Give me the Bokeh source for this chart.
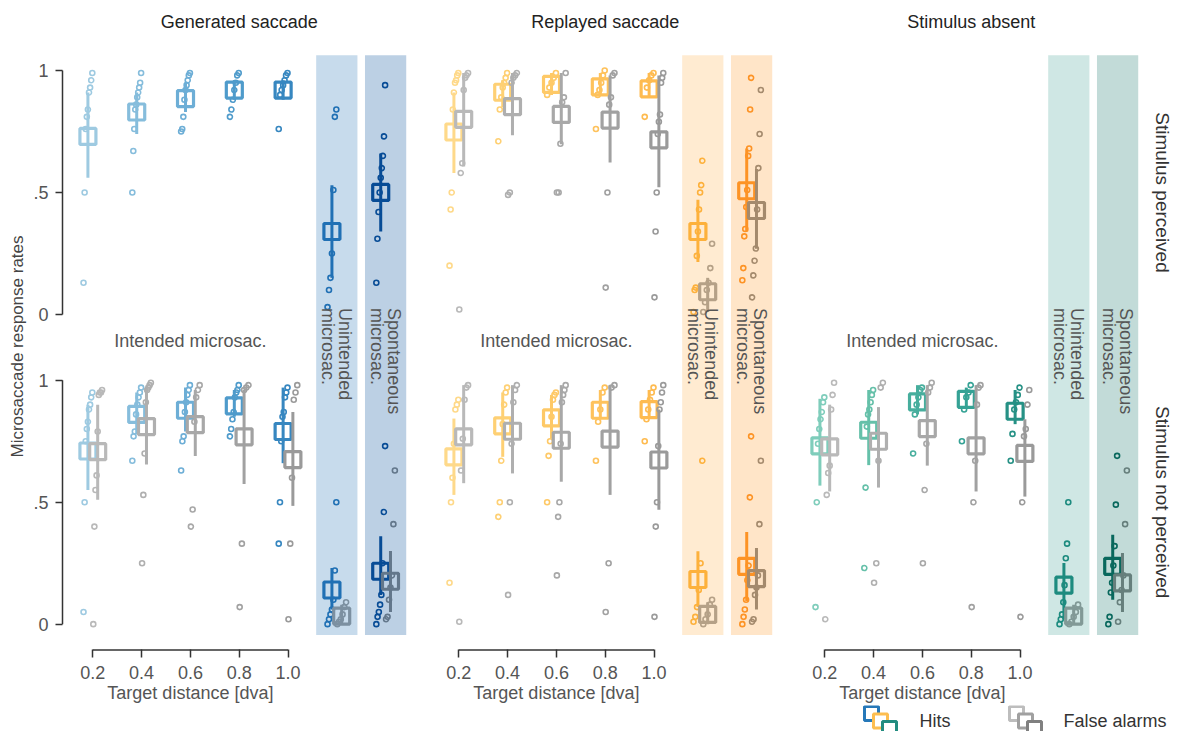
import math
from bokeh.plotting import figure
from bokeh.layouts import row, column
from bokeh.models import Range1d, FixedTicker, ColumnDataSource
from bokeh.embed import file_html
from bokeh.resources import INLINE
from bokeh.core.properties import value

# ---------------- data ----------------
GROUPS = ["Generated saccade", "Replayed saccade", "Stimulus absent"]
ROWS = ["Stimulus perceived", "Stimulus not perceived"]
DIST = [0.2, 0.4, 0.6, 0.8, 1.0]
DIST_LABELS = ["0.2", "0.4", "0.6", "0.8", "1.0"]
EXTRA_POS = [1.2, 1.4]
EXTRA_LABELS = ["Unintended\nmicrosac.", "Spontaneous\nmicrosac."]
INTENDED_LABEL = "Intended microsac."
X_TITLE = "Target distance [dva]"
Y_TITLE = "Microsaccade response rates"
Y_TICKS = [0.0, 0.5, 1.0]
Y_TICK_LABELS = ["0", ".5", "1"]
LEGEND_LABELS = ["Hits", "False alarms"]

# order in every list: 0.2, 0.4, 0.6, 0.8, 1.0, unintended, spontaneous
gen_perc_hit_mean = [0.73, 0.83, 0.885, 0.92, 0.92, 0.34, 0.50]
gen_perc_hit_lo = [0.56, 0.74, 0.83, 0.88, 0.88, 0.15, 0.34]
gen_perc_hit_hi = [0.91, 0.91, 0.95, 0.96, 0.96, 0.53, 0.66]
gen_perc_hit_pts = [
    [0.99, 0.96, 0.93, 0.91, 0.84, 0.81, 0.76, 0.5, 0.13],
    [0.99, 0.95, 0.93, 0.91, 0.89, 0.86, 0.84, 0.76, 0.67, 0.5],
    [0.99, 0.98, 0.96, 0.94, 0.92, 0.88, 0.81, 0.76, 0.75],
    [0.99, 0.98, 0.95, 0.92, 0.88, 0.84, 0.81],
    [0.99, 0.98, 0.96, 0.94, 0.92, 0.9, 0.76],
    [0.84, 0.81, 0.51, 0.25, 0.15, 0.1, 0.03],
    [0.94, 0.73, 0.65, 0.6, 0.56, 0.5, 0.42, 0.31, 0.13],
]

gen_notp_hit_mean = [0.71, 0.86, 0.877, 0.895, 0.79, 0.14, 0.217]
gen_notp_hit_lo = [0.55, 0.78, 0.79, 0.85, 0.66, 0.06, 0.12]
gen_notp_hit_hi = [0.90, 0.95, 0.97, 0.96, 0.97, 0.23, 0.36]
gen_notp_hit_pts = [
    [0.95, 0.93, 0.9, 0.88, 0.83, 0.8, 0.75, 0.5, 0.05],
    [0.97, 0.95, 0.93, 0.9, 0.86, 0.79, 0.77, 0.67],
    [0.98, 0.96, 0.94, 0.91, 0.87, 0.77, 0.75, 0.63],
    [0.98, 0.96, 0.95, 0.93, 0.87, 0.84, 0.8, 0.77],
    [0.97, 0.95, 0.93, 0.87, 0.85, 0.75, 0.5, 0.33],
    [0.5, 0.22, 0.1, 0.06, 0.04, 0.02, 0.0],
    [0.73, 0.46, 0.25, 0.12, 0.08, 0.05, 0.03, 0.0],
]
gen_notp_fa_mean = [0.707, 0.81, 0.818, 0.768, 0.675, 0.033, 0.176]
gen_notp_fa_lo = [0.51, 0.655, 0.689, 0.575, 0.485, 0.0, 0.05]
gen_notp_fa_hi = [0.90, 0.97, 0.96, 0.96, 0.87, 0.08, 0.30]
gen_notp_fa_pts = [
    [0.96, 0.95, 0.95, 0.94, 0.79, 0.61, 0.55, 0.4, 0.0],
    [0.99, 0.98, 0.97, 0.96, 0.91, 0.7, 0.53, 0.25],
    [0.98, 0.96, 0.93, 0.83, 0.47, 0.4],
    [0.98, 0.97, 0.96, 0.33, 0.07],
    [0.98, 0.95, 0.92, 0.6, 0.33, 0.02],
    [0.09, 0.07, 0.04, 0.02, 0.01, 0.0],
    [0.63, 0.41, 0.2, 0.15, 0.1, 0.03, 0.02],
]

rep_perc_hit_mean = [0.748, 0.911, 0.943, 0.933, 0.925, 0.34, 0.507]
rep_perc_hit_lo = [0.58, 0.85, 0.90, 0.90, 0.89, 0.215, 0.34]
rep_perc_hit_hi = [0.91, 0.96, 0.99, 0.99, 0.99, 0.47, 0.68]
rep_perc_hit_pts = [
    [0.99, 0.98, 0.96, 0.95, 0.91, 0.84, 0.5, 0.43, 0.2],
    [0.99, 0.97, 0.95, 0.93, 0.89, 0.84, 0.71],
    [0.99, 0.97, 0.95, 0.93, 0.9],
    [1.0, 0.98, 0.95, 0.92, 0.9, 0.76],
    [0.99, 0.98, 0.96, 0.93, 0.81],
    [0.63, 0.53, 0.5, 0.43, 0.34, 0.24, 0.11, 0.1, 0.01],
    [0.97, 0.84, 0.68, 0.65, 0.51, 0.44, 0.35, 0.32, 0.19, 0.14],
]
rep_perc_fa_mean = [0.80, 0.852, 0.82, 0.797, 0.716, 0.093, 0.426]
rep_perc_fa_lo = [0.607, 0.735, 0.698, 0.623, 0.521, 0.01, 0.269]
rep_perc_fa_hi = [0.99, 0.99, 0.99, 0.98, 0.98, 0.15, 0.596]
rep_perc_fa_pts = [
    [0.99, 0.98, 0.97, 0.92, 0.62, 0.58, 0.02],
    [0.99, 0.98, 0.97, 0.95, 0.5, 0.49],
    [0.99, 0.89, 0.87, 0.7, 0.5, 0.5],
    [0.99, 0.98, 0.89, 0.86, 0.5, 0.11],
    [0.99, 0.97, 0.95, 0.82, 0.79, 0.74, 0.5, 0.34, 0.07],
    [0.29, 0.19, 0.13, 0.1, 0.05, 0.01],
    [0.92, 0.74, 0.6, 0.43, 0.27, 0.22, 0.16, 0.07],
]

rep_notp_hit_mean = [0.686, 0.813, 0.846, 0.877, 0.88, 0.183, 0.237]
rep_notp_hit_lo = [0.53, 0.686, 0.761, 0.84, 0.85, 0.07, 0.095]
rep_notp_hit_hi = [0.843, 0.95, 0.94, 0.96, 0.96, 0.299, 0.378]
rep_notp_hit_pts = [
    [0.92, 0.9, 0.88, 0.74, 0.6, 0.5, 0.17],
    [0.97, 0.95, 0.9, 0.82, 0.67, 0.5, 0.44],
    [0.95, 0.94, 0.92, 0.85, 0.75, 0.69, 0.5],
    [0.97, 0.95, 0.88, 0.83, 0.67],
    [0.97, 0.95, 0.92, 0.88, 0.84, 0.75],
    [0.67, 0.25, 0.14, 0.07, 0.03, 0.01],
    [0.77, 0.52, 0.24, 0.18, 0.1, 0.06, 0.03, 0.0],
]
rep_notp_fa_mean = [0.768, 0.791, 0.754, 0.759, 0.673, 0.04, 0.187]
rep_notp_fa_lo = [0.578, 0.618, 0.584, 0.53, 0.469, 0.0, 0.06]
rep_notp_fa_hi = [0.98, 0.98, 0.98, 0.98, 0.88, 0.09, 0.312]
rep_notp_fa_pts = [
    [0.98, 0.97, 0.92, 0.76, 0.63, 0.01],
    [0.98, 0.96, 0.91, 0.74, 0.5, 0.12],
    [0.98, 0.96, 0.94, 0.91, 0.74, 0.5, 0.44, 0.2],
    [0.98, 0.97, 0.25, 0.05],
    [0.98, 0.95, 0.91, 0.88, 0.73, 0.5, 0.4, 0.03],
    [0.1, 0.08, 0.04, 0.02, 0.0],
    [0.67, 0.41, 0.2, 0.15, 0.12, 0.02, 0.01],
]

abs_notp_hit_mean = [0.731, 0.795, 0.911, 0.922, 0.873, 0.16, 0.237]
abs_notp_hit_lo = [0.568, 0.652, 0.86, 0.89, 0.82, 0.02, 0.10]
abs_notp_hit_hi = [0.924, 0.96, 0.98, 0.97, 0.96, 0.251, 0.367]
abs_notp_hit_pts = [
    [0.93, 0.91, 0.87, 0.84, 0.8, 0.74, 0.5, 0.07],
    [0.96, 0.94, 0.91, 0.88, 0.86, 0.81, 0.56, 0.23],
    [0.97, 0.96, 0.93, 0.9, 0.86, 0.7],
    [0.98, 0.95, 0.93, 0.88, 0.75],
    [0.97, 0.94, 0.91, 0.88, 0.78, 0.67],
    [0.5, 0.33, 0.27, 0.16, 0.09, 0.04, 0.02, 0.0],
    [0.69, 0.49, 0.32, 0.24, 0.17, 0.13, 0.03, 0.0],
]
abs_notp_fa_mean = [0.727, 0.75, 0.802, 0.731, 0.70, 0.033, 0.169]
abs_notp_fa_lo = [0.544, 0.56, 0.65, 0.544, 0.523, 0.0, 0.05]
abs_notp_fa_hi = [0.9, 0.89, 0.98, 0.98, 0.84, 0.08, 0.292]
abs_notp_fa_pts = [
    [0.99, 0.94, 0.88, 0.65, 0.62, 0.53, 0.02],
    [0.99, 0.97, 0.67, 0.25, 0.17],
    [0.99, 0.97, 0.95, 0.74, 0.55, 0.25],
    [0.98, 0.97, 0.9, 0.67, 0.5, 0.07],
    [0.96, 0.9, 0.8, 0.77, 0.5, 0.03],
    [0.08, 0.05, 0.03, 0.01, 0.0],
    [0.63, 0.41, 0.2, 0.14, 0.09, 0.01],
]

SERIES = [
    (0, 0, "hit", gen_perc_hit_mean, gen_perc_hit_lo, gen_perc_hit_hi, gen_perc_hit_pts),
    (0, 1, "hit", gen_notp_hit_mean, gen_notp_hit_lo, gen_notp_hit_hi, gen_notp_hit_pts),
    (0, 1, "fa", gen_notp_fa_mean, gen_notp_fa_lo, gen_notp_fa_hi, gen_notp_fa_pts),
    (1, 0, "hit", rep_perc_hit_mean, rep_perc_hit_lo, rep_perc_hit_hi, rep_perc_hit_pts),
    (1, 0, "fa", rep_perc_fa_mean, rep_perc_fa_lo, rep_perc_fa_hi, rep_perc_fa_pts),
    (1, 1, "hit", rep_notp_hit_mean, rep_notp_hit_lo, rep_notp_hit_hi, rep_notp_hit_pts),
    (1, 1, "fa", rep_notp_fa_mean, rep_notp_fa_lo, rep_notp_fa_hi, rep_notp_fa_pts),
    (2, 1, "hit", abs_notp_hit_mean, abs_notp_hit_lo, abs_notp_hit_hi, abs_notp_hit_pts),
    (2, 1, "fa", abs_notp_fa_mean, abs_notp_fa_lo, abs_notp_fa_hi, abs_notp_fa_pts),
]

# ---------------- styles ----------------
HIT_COLORS = [
    ["#9ecae1", "#86bddc", "#6daed6", "#4f9bcb", "#3787c0", "#2171b5", "#084a94"],
    ["#fed98a", "#fed074", "#fec967", "#fec25c", "#febb50", "#fdb136", "#fd9124"],
    ["#7fcdbb", "#65c0a9", "#47ae9d", "#35a295", "#269185", "#1b897e", "#08665b"],
]
FA_COLORS = ["#b9b9b9", "#afafaf", "#a8a8a8", "#a1a1a1", "#9a9a9a", "#9b9b9b", "#858585"]
BAND_COLORS = [["#2171b5", "#08519c"], ["#feb24c", "#fe9929"], ["#239184", "#0b6e62"]]
BAND_ALPHA = [[0.25, 0.27], [0.26, 0.26], [0.22, 0.25]]
LEGEND_HIT_COLORS = ["#2678b9", "#fdbe50", "#238c80"]
LEGEND_FA_COLORS = ["#bdbdbd", "#a0a0a0", "#808080"]
FONT = value("Liberation Sans")

GROUP_STEP = 1.5
ROW_OFFSET = [1.27, 0.0]
KIND_SHIFT = {"hit": -0.02, "fa": 0.02}
POINT_SPREAD = 0.036
BAND_HALF = 0.0845

# page-pixel layout helpers (layout only)
PX_X0, PX_PER_X, PY_Y0, PX_PER_Y = 92.3, 244.0, 626.5, 245.0
def px2x(px):
    return 0.2 + (px - PX_X0) / PX_PER_X
def py2y(py):
    return (PY_Y0 - py) / PX_PER_Y

def bare(fig):
    fig.outline_line_color = None
    fig.grid.visible = False
    fig.background_fill_color = "white"
    fig.border_fill_color = "white"

YLAB_W = 28
p = figure(width=1178 - YLAB_W, height=705, output_backend="svg", toolbar_location=None,
           x_range=Range1d(px2x(55), px2x(1178)), y_range=Range1d(py2y(660), py2y(0)),
           min_border_left=55 - YLAB_W, min_border_right=0, min_border_top=0, min_border_bottom=45)
bare(p)

# axes
xt = [round(d + GROUP_STEP * g, 4) for g in range(3) for d in DIST]
xlab = {}
for i, t in enumerate(xt):
    xlab[t] = DIST_LABELS[i % 5] + ("\n" + X_TITLE if i % 5 == 2 else "")
p.xaxis.ticker = FixedTicker(ticks=xt)
p.xaxis.major_label_overrides = xlab
p.xaxis.major_label_text_line_height = 1.0
yt = [round(v + ROW_OFFSET[r], 4) for r in range(2) for v in Y_TICKS]
p.yaxis.ticker = FixedTicker(ticks=yt)
p.yaxis.major_label_overrides = {t: Y_TICK_LABELS[i % 3] for i, t in enumerate(yt)}
for ax, tin, so in ((p.xaxis, 8, 5), (p.yaxis, 7, 7)):
    ax.axis_line_color = None
    ax.major_tick_in = tin
    ax.major_tick_out = 0
    ax.minor_tick_line_color = None
    ax.major_tick_line_color = "#333333"
    ax.major_tick_line_width = 1.5
    ax.major_label_text_font = "Liberation Sans"
    ax.major_label_text_font_size = "18px"
    ax.major_label_text_color = "#555555"
    ax.major_label_standoff = so

# axis line pieces
yl_x = px2x(62)
p.segment(x0=[yl_x, yl_x], y0=[ROW_OFFSET[0], ROW_OFFSET[1]], x1=[yl_x, yl_x],
          y1=[ROW_OFFSET[0] + 1, ROW_OFFSET[1] + 1], line_color="#333333", line_width=1.5)
xl_y = py2y(652.5)
p.segment(x0=[DIST[0] + GROUP_STEP * g for g in range(3)], y0=[xl_y] * 3,
          x1=[DIST[-1] + GROUP_STEP * g for g in range(3)], y1=[xl_y] * 3,
          line_color="#333333", line_width=1.5)

# build layers
layers = {}
for kind in ("hit", "fa"):
    layers[kind] = {k: [] for k in ("wx", "wy0", "wy1", "wc", "px", "py", "pc", "bx", "by", "bc")}
POS = DIST + EXTRA_POS
for g, r, kind, mean, lo, hi, pts in SERIES:
    off = ROW_OFFSET[r]
    L = layers[kind]
    for c in range(7):
        base = POS[c] + GROUP_STEP * g + KIND_SHIFT[kind]
        col = HIT_COLORS[g][c] if kind == "hit" else FA_COLORS[c]
        L["wx"].append(base); L["wy0"].append(lo[c] + off); L["wy1"].append(hi[c] + off); L["wc"].append(col)
        vals = sorted(pts[c])
        n = len(vals)
        for i, v in enumerate(vals):
            L["px"].append(base + ((i / (n - 1)) - 0.5) * POINT_SPREAD if n > 1 else base)
            L["py"].append(v + off)
            L["pc"].append(col)
        L["bx"].append(base); L["by"].append(mean[c] + off); L["bc"].append(col)

for kind in ("hit", "fa"):
    L = layers[kind]
    ws = ColumnDataSource(dict(x=L["wx"], y0=L["wy0"], y1=L["wy1"], c=L["wc"]))
    p.segment(x0="x", y0="y0", x1="x", y1="y1", line_color="c", line_width=3, source=ws)
    ps = ColumnDataSource(dict(x=L["px"], y=L["py"], c=L["pc"]))
    p.scatter(x="x", y="y", marker="circle", size=5, line_width=1.6, fill_color=None,
              line_color="c", source=ps)
    bs = ColumnDataSource(dict(x=L["bx"], y=L["by"], c=L["bc"]))
    p.scatter(x="x", y="y", marker="square", size=16, line_width=3.2, fill_color=None,
              line_color="c", source=bs)

# translucent bands over unintended / spontaneous
bl, br, bc, ba = [], [], [], []
for g in range(3):
    for k in range(2):
        xc = EXTRA_POS[k] + GROUP_STEP * g
        bl.append(xc - BAND_HALF); br.append(xc + BAND_HALF)
        bc.append(BAND_COLORS[g][k]); ba.append(BAND_ALPHA[g][k])
p.quad(left=bl, right=br, bottom=py2y(637.5), top=py2y(55), fill_color=bc, fill_alpha=ba,
       line_color=None)

# texts inside plot
p.text(x=[EXTRA_POS[k] + GROUP_STEP * g for g in range(3) for k in range(2)],
       y=[py2y(309)] * 6, text=[EXTRA_LABELS[k] for g in range(3) for k in range(2)],
       angle=-math.pi / 2, text_align="left", text_baseline="middle", text_font=FONT,
       text_font_size="18px", text_color="#555555", text_line_height=0.85)
p.text(x=[0.6 + GROUP_STEP * g for g in range(3)], y=[py2y(342)] * 3, text=[INTENDED_LABEL] * 3,
       text_align="center", text_baseline="middle", text_font=FONT, text_font_size="18px",
       text_color="#555555")
p.text(x=[0.8 + GROUP_STEP * g for g in range(3)], y=[py2y(22)] * 3, text=GROUPS,
       text_align="center", text_baseline="middle", text_font=FONT, text_font_size="18px",
       text_color="#222222")
p.text(x=[px2x(1162)] * 2, y=[ROW_OFFSET[r] + 0.5 for r in range(2)], text=ROWS,
       angle=-math.pi / 2, text_align="center", text_baseline="middle", text_font=FONT,
       text_font_size="19px", text_color="#333333")

# y-axis title panel
yfig = figure(width=YLAB_W, height=731, output_backend="svg", toolbar_location=None,
              x_range=Range1d(0, YLAB_W), y_range=Range1d(py2y(731), py2y(0)),
              x_axis_location=None, y_axis_location=None, min_border=0,
              min_border_left=0, min_border_right=0, min_border_top=0, min_border_bottom=0)
bare(yfig)
yfig.text(x=[17], y=[py2y(346)], text=[Y_TITLE], angle=math.pi / 2, text_align="center",
          text_baseline="middle", text_font=FONT, text_font_size="17px", text_color="#444444")

# legend panel
leg = figure(width=1178 - YLAB_W, height=26, output_backend="svg", toolbar_location=None,
             x_range=p.x_range, y_range=Range1d(py2y(731), py2y(705)),
             x_axis_location=None, y_axis_location=None, min_border=0,
             min_border_left=55 - YLAB_W, min_border_right=0, min_border_top=0, min_border_bottom=0)
bare(leg)
for cx0, cols in ((871, LEGEND_HIT_COLORS), (1016, LEGEND_FA_COLORS)):
    leg.scatter(x=[px2x(cx0 + 9 * i) for i in range(3)], y=[py2y(713 + 7.5 * i) for i in range(3)],
                marker="square", size=14, line_width=3, line_color=cols, fill_color="white")
leg.text(x=[px2x(919), px2x(1063)], y=[py2y(720)] * 2, text=LEGEND_LABELS, text_align="left",
         text_baseline="middle", text_font=FONT, text_font_size="18px", text_color="#333333")

layout = row(yfig, column(p, leg))
open("out.html", "w").write(file_html(layout, INLINE))
